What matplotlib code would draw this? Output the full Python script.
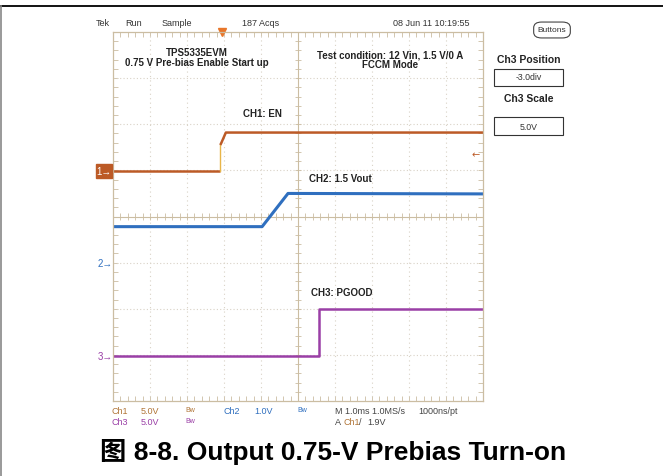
import numpy as np
import matplotlib
matplotlib.use('Agg')
import matplotlib.pyplot as plt
from matplotlib.patches import Rectangle, FancyBboxPatch
from matplotlib.lines import Line2D

# Traces in scope divisions (x: 0..10 div, y: 0..8 div)
ch1_t = [0.0, 2.90, 2.90, 2.93, 3.05, 10.0]
ch1_v = [4.98, 4.98, 5.55, 5.60, 5.82, 5.82]
ch2_t = [0.0, 4.03, 4.73, 10.0]
ch2_v = [3.78, 3.78, 4.50, 4.49]
ch3_t = [0.0, 5.57, 5.57, 10.0]
ch3_v = [0.98, 0.98, 2.00, 2.00]

ch_markers = {'1': 4.98, '2': 3.0, '3': 0.98}
trig_pos = 2.95
trig_level = 5.35

W, H = 663, 477
C1, C2, C3 = '#BC5A26', '#2F6FBF', '#9A3FA6'
GRID = '#CBBDA2'
DOT = '#D9D2C6'
NARROW = ['Liberation Sans', 'DejaVu Sans']
ARIAL = ['Liberation Sans', 'DejaVu Sans']


def fx(x):
    return x / W


def fy(y):
    return 1 - y / H


fig = plt.figure(figsize=(W / 100, H / 100), dpi=100)

# page border lines
fig.add_artist(Line2D([0, 1], [fy(7), fy(7)], color='black', lw=1.3))
fig.add_artist(Line2D([fx(1), fx(1)], [0, fy(7)], color='#888888', lw=1.2))

ax = fig.add_axes([fx(113), fy(402), (483 - 113) / W, (402 - 33) / H])
ax.set_xlim(0, 10)
ax.set_ylim(0, 8)
for s in ax.spines.values():
    s.set_color(GRID)
    s.set_linewidth(0.9)
ax.set_xticks(np.arange(0, 10.01, 0.2))
ax.set_yticks(np.arange(0, 8.01, 0.2))
ax.set_xticklabels([])
ax.set_yticklabels([])
ax.tick_params(direction='in', length=3.5, width=0.6, color=GRID,
               top=True, right=True, bottom=True, left=True)

# dotted graticule
for gx in range(1, 10):
    if gx != 5:
        ax.axvline(gx, color=DOT, lw=0.8, ls=(0, (1, 3)))
for gy in range(1, 8):
    if gy != 4:
        ax.axhline(gy, color=DOT, lw=0.8, ls=(0, (1, 2)))
# center cross with minor ticks
ax.axvline(5, color=GRID, lw=0.8)
ax.axhline(4, color=GRID, lw=0.8)
ax.vlines(np.arange(0.2, 10, 0.2), 4 - 0.07, 4 + 0.07, color=GRID, lw=0.6)
ax.hlines(np.arange(0.2, 8, 0.2), 5 - 0.08, 5 + 0.08, color=GRID, lw=0.6)

# traces
ax.plot(ch1_t[:2], ch1_v[:2], color=C1, lw=1.8, solid_capstyle='butt')
ax.plot(ch1_t[1:3], ch1_v[1:3], color='#E8B548', lw=1.0)
ax.plot(ch1_t[2:], ch1_v[2:], color=C1, lw=1.8, solid_capstyle='butt')
ax.plot(ch2_t, ch2_v, color=C2, lw=2.2, solid_capstyle='butt')
ax.plot(ch3_t, ch3_v, color=C3, lw=1.8, solid_capstyle='butt')

# trigger markers
ax.plot([trig_pos], [8], marker='v', color='#E8762A', ms=6, clip_on=False)
ax.text(9.92, trig_level, '\u2190', color=C1, fontsize=7, ha='right',
        va='center', family=['DejaVu Sans'])

# annotations
bold = dict(fontweight='bold', family=ARIAL, fontsize=7, color='#222222',
            ha='center', va='center')
fig.text(fx(197), fy(53), 'TPS5335EVM', **bold)
fig.text(fx(197), fy(63), '0.75 V Pre-bias Enable Start up', **bold)
fig.text(fx(390), fy(55), 'Test condition: 12 Vin, 1.5 V/0 A', **bold)
fig.text(fx(390), fy(65), 'FCCM Mode', **bold)
fig.text(fx(262), fy(114), 'CH1: EN', **bold)
fig.text(fx(340), fy(179), 'CH2: 1.5 Vout', **bold)
fig.text(fx(342), fy(293), 'CH3: PGOOD', **bold)

# channel ground markers
for lab, lvl in ch_markers.items():
    yy = ax.transData.transform((0, lvl))[1]
    ypx = H - yy
    if lab == '1':
        fig.add_artist(Rectangle((fx(96), fy(ypx + 7)), (112 - 96) / W, 14 / H,
                                 color=C1, transform=fig.transFigure))
        fig.text(fx(104), fy(ypx), '1\u2192', color='white', fontsize=7,
                 ha='center', va='center', family=NARROW)
    else:
        col = C2 if lab == '2' else C3
        fig.text(fx(105), fy(ypx), lab + '\u2192', color=col, fontsize=7,
                 ha='center', va='center', family=NARROW)

# status line
st = dict(fontsize=6.5, color='#333333', va='center', family=NARROW)
fig.text(fx(96), fy(24), 'Tek', **st)
fig.text(fx(125), fy(24), 'Run', **st)
fig.text(fx(162), fy(24), 'Sample', **st)
fig.text(fx(242), fy(24), '187 Acqs', **st)
fig.text(fx(393), fy(24), '08 Jun 11 10:19:55', **st)

# right side panel
fig.add_artist(FancyBboxPatch((fx(535), fy(38)), (569 - 535) / W, 14 / H,
                              boxstyle='round,pad=0.002,rounding_size=0.012',
                              ec='#444444', fc='white', lw=0.8,
                              transform=fig.transFigure))
fig.text(fx(552), fy(31), 'Buttons', fontsize=6, color='#333333',
         ha='center', va='center', family=NARROW)
fig.text(fx(529), fy(60), 'Ch3 Position', fontsize=7.5, fontweight='bold',
         color='#222222', ha='center', va='center', family=NARROW)
fig.add_artist(Rectangle((fx(494), fy(87)), (563 - 494) / W, 17 / H, ec='#333333',
                         fc='white', lw=0.8, transform=fig.transFigure))
fig.text(fx(529), fy(78), '-3.0div', fontsize=6.3, color='#333333',
         ha='center', va='center', family=NARROW)
fig.text(fx(529), fy(99), 'Ch3 Scale', fontsize=7.5, fontweight='bold',
         color='#222222', ha='center', va='center', family=NARROW)
fig.add_artist(Rectangle((fx(494), fy(136)), (563 - 494) / W, 18 / H, ec='#333333',
                         fc='white', lw=0.8, transform=fig.transFigure))
fig.text(fx(529), fy(127), '5.0V', fontsize=6.3, color='#333333',
         ha='center', va='center', family=NARROW)

# bottom readout
BR1, GRY = '#B07436', '#444444'
rd = dict(fontsize=6.5, va='center', family=NARROW)
bw = dict(fontsize=5, va='center', family=NARROW)
fig.text(fx(112), fy(412), 'Ch1', color=BR1, **rd)
fig.text(fx(141), fy(412), '5.0V', color=BR1, **rd)
fig.text(fx(185), fy(411), 'Bw', color=BR1, **bw)
fig.text(fx(223), fy(412), 'Ch2', color=C2, **rd)
fig.text(fx(254), fy(412), '1.0V', color=C2, **rd)
fig.text(fx(297), fy(411), 'Bw', color=C2, **bw)
fig.text(fx(335), fy(412), 'M 1.0ms 1.0MS/s', color=GRY, **rd)
fig.text(fx(418), fy(412), '1000ns/pt', color=GRY, **rd)
fig.text(fx(112), fy(423), 'Ch3', color=C3, **rd)
fig.text(fx(141), fy(423), '5.0V', color=C3, **rd)
fig.text(fx(185), fy(422), 'Bw', color=C3, **bw)
fig.text(fx(335), fy(423), 'A', color=GRY, **rd)
fig.text(fx(343), fy(423), 'Ch1', color=BR1, **rd)
fig.text(fx(359), fy(423), '/', color=GRY, **rd)
fig.text(fx(367), fy(423), '1.9V', color=GRY, **rd)

# caption
fig.text(fx(333), fy(452), '图 8-8. Output 0.75-V Prebias Turn-on', fontsize=19,
         fontweight='bold', color='black', ha='center', va='center',
         family=['Liberation Sans', 'Noto Sans CJK SC'])

fig.savefig('out.png', dpi=100)
